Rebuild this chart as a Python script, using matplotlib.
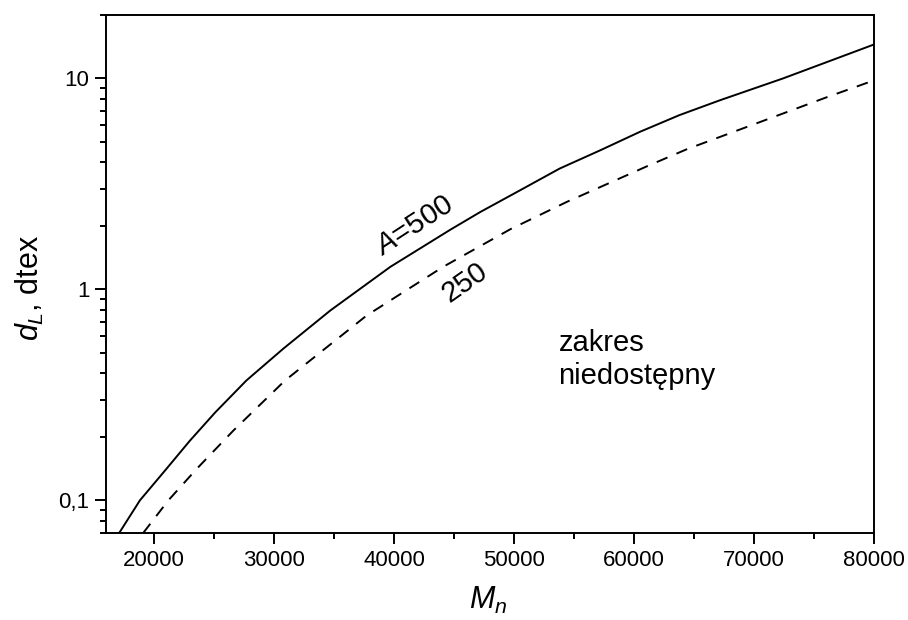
import matplotlib
matplotlib.use('Agg')
import matplotlib.pyplot as plt
from matplotlib.ticker import FixedLocator, FuncFormatter, LogLocator, MultipleLocator, NullFormatter

plt.rcParams['font.family'] = ['Liberation Sans', 'DejaVu Sans']
plt.rcParams['mathtext.fontset'] = 'custom'
plt.rcParams['mathtext.rm'] = 'Liberation Sans'
plt.rcParams['mathtext.it'] = 'Liberation Sans:italic'

# values
mn_500 = [17100, 18830, 20900, 23000, 25100, 27700, 30800, 34700, 39700, 44700,
          47200, 50500, 53800, 57200, 60500, 63800, 67200, 72400, 80000]
dl_500 = [0.07, 0.1, 0.138, 0.192, 0.261, 0.37, 0.525, 0.795, 1.28, 1.92,
          2.33, 2.95, 3.74, 4.57, 5.59, 6.71, 7.9, 10.0, 14.5]

mn_250 = [19100, 21200, 23560, 26610, 30920, 37720, 44100, 49700, 54400, 57700,
          61100, 64400, 76060, 80000]
dl_250 = [0.07, 0.1, 0.141, 0.214, 0.37, 0.752, 1.28, 1.93, 2.6, 3.15,
          3.84, 4.62, 8.15, 9.8]

y_ticks = [0.1, 1, 10]

fig = plt.figure(figsize=(9.08, 6.2), dpi=100)
ax = fig.add_axes([0.1167, 0.1403, 0.8459, 0.8355])

ax.plot(mn_500, dl_500, color='black', lw=1.4)
ax.plot(mn_250, dl_250, color='black', lw=1.4, dashes=(6, 5))

ax.set_yscale('log')
ax.set_xlim(16000, 80000)
ax.set_ylim(0.07, 20)

ax.xaxis.set_major_locator(MultipleLocator(10000))
ax.xaxis.set_minor_locator(MultipleLocator(5000))
ax.yaxis.set_major_locator(FixedLocator(y_ticks))
ax.yaxis.set_minor_locator(LogLocator(base=10, subs=range(2, 10)))
ax.yaxis.set_minor_formatter(NullFormatter())
ax.yaxis.set_major_formatter(FuncFormatter(lambda v, p: ('%g' % v).replace('.', ',')))

for s in ax.spines.values():
    s.set_linewidth(1.4)
ax.tick_params(which='major', direction='out', length=8, width=1.4, labelsize=16, pad=4)
ax.tick_params(which='minor', direction='out', length=4.3, width=1.4)
ax.tick_params(top=False, right=False, which='both')

ax.set_xlabel('$M_n$', fontsize=22)
ax.xaxis.set_label_coords(0.497, -0.1)
ax.set_ylabel('$d_L$, dtex', fontsize=22)
ax.yaxis.set_label_coords(-0.078, 0.473)

ax.text(41700, 2.0, '$A$=500', fontsize=21, rotation=33, ha='center', va='center')
ax.text(45900, 1.08, '250', fontsize=21, rotation=35, ha='center', va='center')
ax.text(53700, 0.465, 'zakres\nniedostępny', fontsize=21, ha='left', va='center',
        linespacing=1.25)

fig.savefig('out.png', dpi=100)
